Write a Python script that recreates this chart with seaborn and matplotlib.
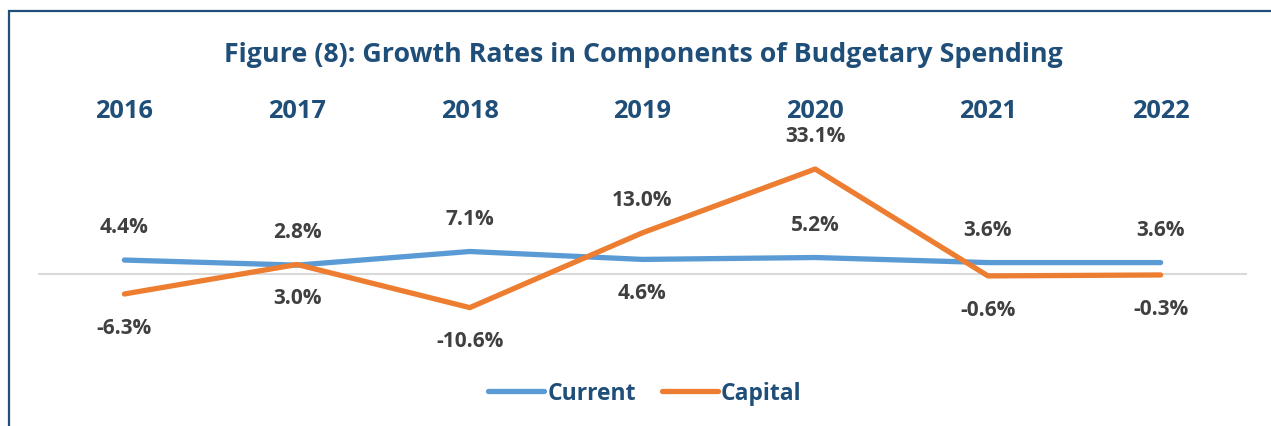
import matplotlib
matplotlib.use("Agg")
import matplotlib.pyplot as plt
import matplotlib.patches as mpatches
import seaborn as sns
import pandas as pd

years = ["2016", "2017", "2018", "2019", "2020", "2021", "2022"]
current = [4.4, 2.8, 7.1, 4.6, 5.2, 3.6, 3.6]
capital = [-6.3, 3.0, -10.6, 13.0, 33.1, -0.6, -0.3]
current_label_side = ["above", "above", "above", "below", "above", "above", "above"]
capital_label_side = ["below", "below", "below", "above", "above", "below", "below"]

df = pd.DataFrame({
    "Year": years * 2,
    "Value": current + capital,
    "Series": ["Current"] * len(years) + ["Capital"] * len(years),
})

sns.set_theme(style="white")
plt.rcParams["font.family"] = ["Open Sans", "DejaVu Sans"]

DARK_BLUE = "#1F4E79"
LABEL_GRAY = "#404040"
palette = {"Current": "#5B9BD5", "Capital": "#ED7D31"}

fig = plt.figure(figsize=(12.71, 4.27), dpi=100)
ax = fig.add_axes([38 / 1271, 67 / 427, 1209 / 1271, 235 / 427])

sns.lineplot(data=df, x="Year", y="Value", hue="Series", palette=palette,
             linewidth=3.8, ax=ax, sort=False, legend=True,
             solid_capstyle="round", solid_joinstyle="round")

ax.set_xlim(-0.5, len(years) - 0.5)
ax.set_ylim(-26.8, 47.3)
ax.axhline(0, color="#D9D9D9", linewidth=1.5, zorder=0)

for s in ax.spines.values():
    s.set_visible(False)
ax.set_yticks([])
ax.set_xlabel("")
ax.set_ylabel("")
ax.xaxis.tick_top()
ax.tick_params(axis="x", length=0, pad=1, labelsize=18.3, labelcolor=DARK_BLUE)
for t in ax.get_xticklabels():
    t.set_fontweight("bold")

def annotate(vals, sides):
    for i, (v, side) in enumerate(zip(vals, sides)):
        off = 24 if side == "above" else -24
        ax.annotate(f"{v:.1f}%", (i, v), xytext=(0, off), textcoords="offset points",
                    ha="center", va="center", fontsize=15, fontweight="bold",
                    color=LABEL_GRAY)

annotate(current, current_label_side)
annotate(capital, capital_label_side)

leg = ax.legend(loc="center", bbox_to_anchor=(645 / 1271, 33 / 427),
                bbox_transform=fig.transFigure, ncol=2, frameon=False,
                handlelength=2.45, handletextpad=0.15, columnspacing=1.1,
                prop={"size": 16.5, "weight": "bold"})
for t in leg.get_texts():
    t.set_color(DARK_BLUE)
for h in leg.get_lines():
    h.set_linewidth(3.8)
    h.set_solid_capstyle("round")

fig.text(643 / 1271, 1 - 55 / 427, "Figure (8): Growth Rates in Components of Budgetary Spending",
         ha="center", va="center", fontsize=19.3, fontweight="bold", color=DARK_BLUE)

border = mpatches.Rectangle((9 / 1271, -0.2), 1.2, (427 - 12) / 427 + 0.2,
                            transform=fig.transFigure, fill=False,
                            edgecolor=DARK_BLUE, linewidth=1.6)
fig.patches.append(border)

fig.savefig("out.png", dpi=100)
